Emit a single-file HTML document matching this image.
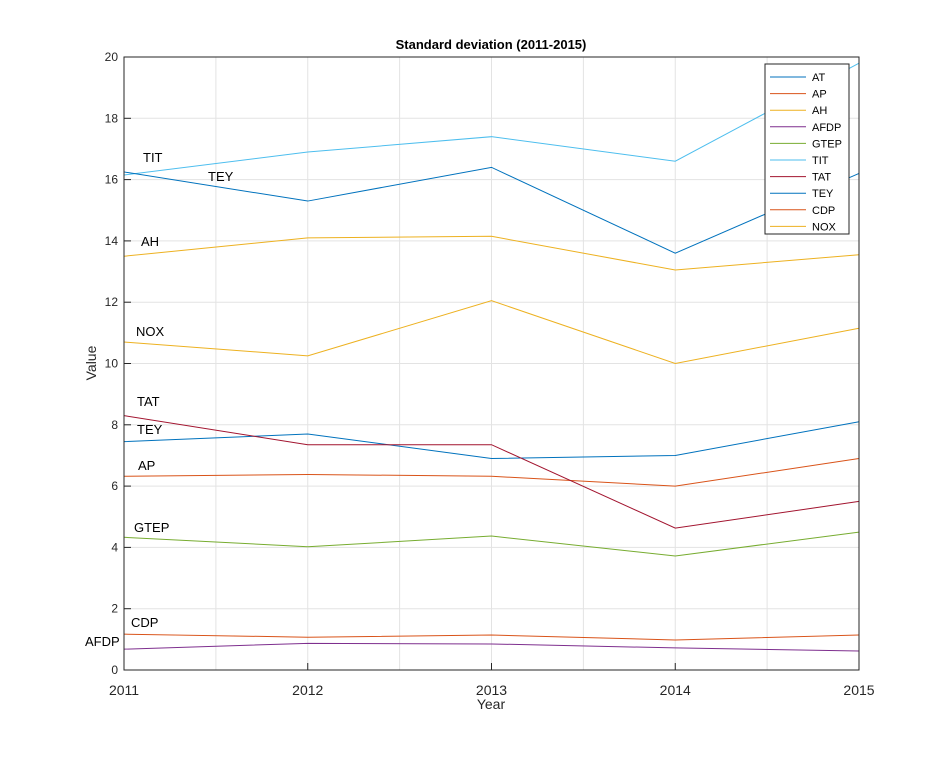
<!DOCTYPE html>
<html><head><meta charset="utf-8"><style>
body{margin:0;background:#fff;}
svg text{font-family:"Liberation Sans",sans-serif;}
</style></head><body>
<svg id="chart" width="950" height="753" viewBox="0 0 950 753">
<rect width="950" height="753" fill="#fff"/>
<g id="grid"></g>
<g id="series"></g>
<g id="axes"></g>
<g id="annot"></g>
<g id="legend"></g>
</svg>
<script>
const years=[2011,2012,2013,2014,2015];
const names=["AT","AP","AH","AFDP","GTEP","TIT","TAT","TEY","CDP","NOX"];
const colors=["#0072BD","#D95319","#EDB120","#7E2F8E","#77AC30","#4DBEEE","#A2142F","#0072BD","#D95319","#EDB120"];
const AT=[7.45,7.7,6.9,7.0,8.1];
const AP=[6.32,6.38,6.32,6.0,6.9];
const AH=[13.5,14.1,14.15,13.05,13.55];
const AFDP=[0.68,0.87,0.85,0.72,0.62];
const GTEP=[4.33,4.02,4.37,3.72,4.5];
const TIT=[16.15,16.9,17.4,16.6,19.8];
const TAT=[8.3,7.35,7.35,4.63,5.5];
const TEY=[16.25,15.3,16.4,13.6,16.2];
const CDP=[1.17,1.07,1.14,0.98,1.14];
const NOX=[10.7,10.25,12.05,10.0,11.15];
const seriesData=[AT,AP,AH,AFDP,GTEP,TIT,TAT,TEY,CDP,NOX];
const yTicks=[0,2,4,6,8,10,12,14,16,18,20];
const annotations=[["TIT",143,157],["TEY",208,176],["AH",141,241],["NOX",136,331],["TAT",137,401],["TEY",137,429],["AP",138,465],["GTEP",134,527],["CDP",131,622],["AFDP",85,641]];
const X0=124,X1=859,Y0=670,Y1=57;
const xs=v=>X0+(v-2011)/(2015-2011)*(X1-X0);
const ys=v=>Y0-(v-0)/(20-0)*(Y0-Y1);
const NS="http://www.w3.org/2000/svg";
function mk(tag,attrs,parent){const e=document.createElementNS(NS,tag);for(const k in attrs)e.setAttribute(k,attrs[k]);parent.appendChild(e);return e;}
const grid=document.getElementById('grid'),axes=document.getElementById('axes'),ser=document.getElementById('series');
for(let q=0;q<=8;q++){const x=xs(2011+q/2);const l=mk('line',{x1:x,x2:x,y1:Y1,y2:Y0,stroke:'#e3e3e3','stroke-width':1},grid);
}
yTicks.forEach(t=>{const y=ys(t);const l=mk('line',{x1:X0,x2:X1,y1:y,y2:y,stroke:'#e3e3e3','stroke-width':1},grid);

const tk=mk('line',{x1:X0,x2:X0+7,y1:y,y2:y,stroke:'#262626'},axes);
const tx=mk('text',{x:X0-6,y:y+4,'text-anchor':'end','font-size':12,fill:'#262626'},axes);tx.textContent=t;
});
years.forEach(yr=>{const x=xs(yr);
const tk=mk('line',{x1:x,x2:x,y1:Y0,y2:Y0-7,stroke:'#262626'},axes);
const tx=mk('text',{x:x,y:Y0+25,'text-anchor':'middle','font-size':14,fill:'#262626'},axes);tx.textContent=yr;
});
const box=mk('rect',{x:X0,y:Y1,width:X1-X0,height:Y0-Y1,fill:'none',stroke:'#262626','stroke-width':1},axes);

seriesData.forEach((d,i)=>{const p=mk('polyline',{points:d.map((v,j)=>xs(years[j])+','+ys(v)).join(' '),fill:'none',stroke:colors[i],'stroke-width':1},ser);
});
let t=mk('text',{x:491,y:49,'text-anchor':'middle','font-size':13,'font-weight':'bold',fill:'#000'},axes);t.textContent='Standard deviation (2011-2015)';

t=mk('text',{x:491,y:709,'text-anchor':'middle','font-size':14,fill:'#262626'},axes);t.textContent='Year';

t=mk('text',{x:96,y:363,'text-anchor':'middle','font-size':14,fill:'#262626',transform:'rotate(-90 96 363)'},axes);t.textContent='Value';

const an=document.getElementById('annot');
annotations.forEach(a=>{const e=mk('text',{x:a[1],y:a[2]+5,'font-size':13,fill:'#000'},an);e.textContent=a[0];
});
const lg=document.getElementById('legend');
const lb=mk('rect',{x:765,y:64,width:84,height:170,fill:'#fff',stroke:'#262626'},lg);

names.forEach((n,i)=>{const y=77+i*16.6;
const l=mk('line',{x1:770,x2:806,y1:y,y2:y,stroke:colors[i]},lg);
const e=mk('text',{x:812,y:y+4,'font-size':11,fill:'#000'},lg);e.textContent=n;
});
</script>
</body></html>
